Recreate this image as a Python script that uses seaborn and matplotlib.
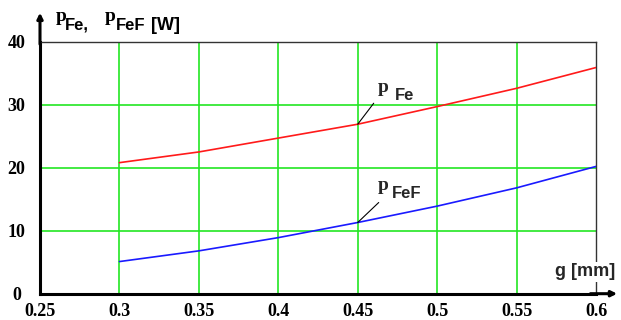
import matplotlib
matplotlib.use("Agg")
import matplotlib.pyplot as plt
import pandas as pd
import seaborn as sns

# air gap g [mm] and iron losses [W]
gap_mm = [0.30, 0.35, 0.40, 0.45, 0.50, 0.55, 0.60]
p_fe = [20.8, 22.5, 24.7, 26.9, 29.7, 32.6, 35.9]
p_fef = [5.1, 6.8, 8.9, 11.3, 13.9, 16.8, 20.2]

x_ticks = [0.25, 0.30, 0.35, 0.40, 0.45, 0.50, 0.55, 0.60]
x_tick_labels = ["0.25", "0.3", "0.35", "0.4", "0.45", "0.5", "0.55", "0.6"]
y_ticks = [0, 10, 20, 30, 40]
y_tick_labels = ["0", "10", "20", "30", "40"]

df = pd.DataFrame({"g": gap_mm, "p_fe": p_fe, "p_fef": p_fef})

sns.set_theme(style="white")
plt.rcParams["font.family"] = ["Liberation Sans", "DejaVu Sans"]

W, H = 621, 320
fig = plt.figure(figsize=(W / 100, H / 100), dpi=100)
ax = fig.add_axes([40 / W, 1 - 293.7 / H, 556 / W, 252 / H])

grid_green = "#22e622"
for xv in x_ticks[1:-1]:
    ax.axvline(xv, color=grid_green, lw=1.2, zorder=1)
for yv in y_ticks[1:-1]:
    ax.axhline(yv, color=grid_green, lw=1.2, zorder=1)

sns.lineplot(data=df, x="g", y="p_fe", color="#ff1a1a", lw=1.2, ax=ax, zorder=3)
sns.lineplot(data=df, x="g", y="p_fef", color="#1a1aff", lw=1.2, ax=ax, zorder=3)

ax.set_xlim(0.25, 0.6)
ax.set_ylim(0, 40)
ax.set_xticks(x_ticks)
ax.set_xticklabels(x_tick_labels)
ax.set_yticks(y_ticks)
ax.set_yticklabels(y_tick_labels)
ax.set_xlabel("")
ax.set_ylabel("")
ax.tick_params(axis="x", length=0, pad=7)
ax.tick_params(axis="y", length=0, pad=17)
for lab in ax.get_xticklabels() + ax.get_yticklabels():
    lab.set_fontfamily("Liberation Serif")
    lab.set_fontweight("bold")
    lab.set_fontsize(13)
    lab.set_color("black")
for lab in ax.get_yticklabels():
    lab.set_horizontalalignment("center")

for side in ("left", "bottom"):
    ax.spines[side].set_color("black")
    ax.spines[side].set_linewidth(2.2)
for side in ("top", "right"):
    ax.spines[side].set_color("#333333")
    ax.spines[side].set_linewidth(1.0)

# axis arrows
arrow = dict(arrowstyle="-|>", lw=2.2, color="black", mutation_scale=8, shrinkA=0, shrinkB=0)
ax.annotate("", xy=(0, 1.115), xytext=(0, 0.99), xycoords="axes fraction",
            textcoords="axes fraction", arrowprops=arrow, annotation_clip=False)
ax.annotate("", xy=(1.038, 0), xytext=(0.99, 0), xycoords="axes fraction",
            textcoords="axes fraction", arrowprops=arrow, annotation_clip=False)

# axis titles
def ftext(x, y, s, **kw):
    fig.text(x / W, 1 - y / H, s, ha="left", va="baseline", color="black", **kw)

ftext(56, 21, "p", family="Liberation Serif", fontweight="bold", fontsize=14)
ftext(65, 30, "Fe,", fontweight="bold", fontsize=12)
ftext(105, 21, "p", family="Liberation Serif", fontweight="bold", fontsize=14)
ftext(116, 30, "FeF", fontweight="bold", fontsize=12)
ftext(151, 30, "[W]", fontweight="bold", fontsize=13)

ax.text(0.98, 0.07, "g [mm]", transform=ax.transAxes, ha="center", va="baseline",
        fontweight="bold", fontsize=13, zorder=5, clip_on=False,
        bbox=dict(facecolor="white", edgecolor="none", pad=1))

# curve labels with leader lines
leader = dict(arrowstyle="-", lw=0.8, color="black", shrinkA=0, shrinkB=0)
i = 3
ax.annotate("", xy=(gap_mm[i], p_fe[i]), xytext=(16, 21), textcoords="offset pixels", arrowprops=leader)
ax.annotate("p", xy=(gap_mm[i], p_fe[i]), xytext=(20, 32), textcoords="offset pixels",
            ha="left", va="baseline", family="Liberation Serif", fontweight="bold", fontsize=14)
ax.annotate("Fe", xy=(gap_mm[i], p_fe[i]), xytext=(37, 24), textcoords="offset pixels",
            ha="left", va="baseline", fontweight="bold", fontsize=12)
ax.annotate("", xy=(gap_mm[i], p_fef[i]), xytext=(21, 20), textcoords="offset pixels", arrowprops=leader)
ax.annotate("p", xy=(gap_mm[i], p_fef[i]), xytext=(20, 33), textcoords="offset pixels",
            ha="left", va="baseline", family="Liberation Serif", fontweight="bold", fontsize=14)
ax.annotate("FeF", xy=(gap_mm[i], p_fef[i]), xytext=(34, 25), textcoords="offset pixels",
            ha="left", va="baseline", fontweight="bold", fontsize=12)

fig.savefig("out.png", dpi=100)
